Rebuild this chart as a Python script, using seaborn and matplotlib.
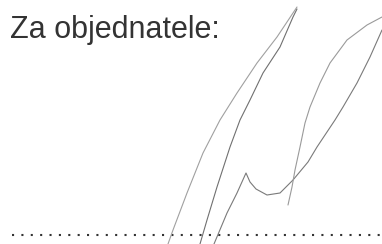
import seaborn as sns
import matplotlib.pyplot as plt

# label and signature strokes in pixel coordinates (x right, y down)
label = "Za objednatele:"

stroke_outer_x = [168, 173, 187, 203, 220, 237, 257, 277, 297]
stroke_outer_y = [244, 230, 193, 153, 120, 93, 63, 37, 7]

stroke_inner_x = [200, 207, 217, 230, 240, 250, 263, 280, 293, 297]
stroke_inner_y = [244, 220, 187, 147, 120, 100, 73, 47, 17, 9]

stroke_kink_x = [214, 227, 237, 246, 250, 256, 267, 280, 293, 308, 317, 335, 343, 357, 370, 382]
stroke_kink_y = [244, 213, 193, 173, 182, 189, 195, 193, 180, 162, 147, 120, 107, 83, 57, 30]

loop_left_x = [382, 367, 347, 330, 320, 310, 305, 300, 295, 292, 288]
loop_left_y = [17, 25, 40, 63, 83, 107, 123, 147, 170, 187, 205]

strokes = [
    (stroke_outer_x, stroke_outer_y, "#a0a0a0"),
    (stroke_inner_x, stroke_inner_y, "#707070"),
    (stroke_kink_x, stroke_kink_y, "#7a7a7a"),
    (loop_left_x, loop_left_y, "#9a9a9a"),
]

sns.set_style("white")
plt.rcParams['font.family'] = ['Liberation Sans', 'DejaVu Sans']

fig = plt.figure(figsize=(3.82, 2.44), dpi=100)
ax = fig.add_axes([0, 0, 1, 1])

# dotted signature line
ax.hlines(235, 12, 382, colors="#333333", linewidth=1.5, linestyles=(0, (1, 3.5)))

for xs, ys, col in strokes:
    sns.lineplot(x=xs, y=ys, sort=False, estimator=None, color=col,
                 linewidth=0.8, ax=ax)

ax.text(10, 38, label, fontsize=22, color="#333333", va="baseline", ha="left")

ax.set_xlim(0, 382)
ax.set_ylim(244, 0)
ax.axis("off")

fig.savefig("out.png", dpi=100, facecolor="white")
